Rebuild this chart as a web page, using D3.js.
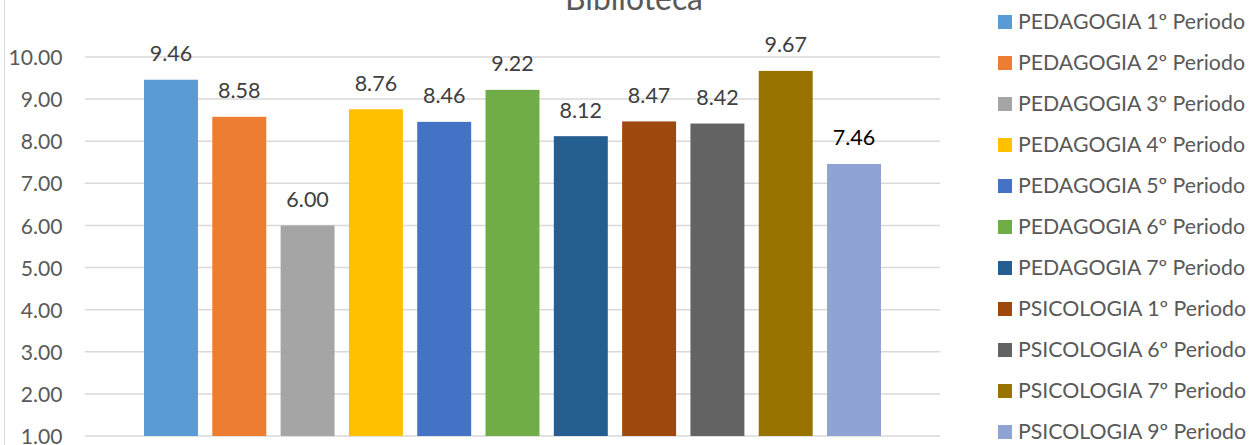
<!DOCTYPE html>
<html><head><meta charset="utf-8">
<script src="https://cdn.jsdelivr.net/npm/d3@7"></script>
<style>body{margin:0;background:#fff}svg{display:block;font-family:Lato,"Open Sans",sans-serif}</style>
</head><body><svg id="c" width="1255" height="445"></svg>
<script>
const title = "Biblioteca";
const series = ["PEDAGOGIA 1º Periodo","PEDAGOGIA 2º Periodo","PEDAGOGIA 3º Periodo","PEDAGOGIA 4º Periodo","PEDAGOGIA 5º Periodo","PEDAGOGIA 6º Periodo","PEDAGOGIA 7º Periodo","PSICOLOGIA 1º Periodo","PSICOLOGIA 6º Periodo","PSICOLOGIA 7º Periodo","PSICOLOGIA 9º Periodo"];
const values = [9.46, 8.58, 6.00, 8.76, 8.46, 9.22, 8.12, 8.47, 8.42, 9.67, 7.46];
const colors = ["#5B9BD5","#ED7D31","#A5A5A5","#FFC000","#4472C4","#70AD47","#255E91","#9E480E","#636363","#997300","#8FA3D4"];
const yTicks = [1,2,3,4,5,6,7,8,9,10];

const svg = d3.select("#c");
const FONT = "Lato,'Open Sans',sans-serif";

// helper: font size so that a string reaches a target width
function fitSize(str, targetW){
  const t = svg.append("text").style("font-family",FONT).style("font-size","20px").text(str);
  const w = t.node().getComputedTextLength();
  t.remove();
  return 20*targetW/w;
}
const legendFs = fitSize(series[0], 227);
const axisFs = fitSize("10.00", 54);
const titleFs = fitSize(title, 138);
const labelFs = fitSize("9.46", 42.5);

const y = d3.scaleLinear().domain([1,10]).range([436,57]);
const x = d3.scaleBand().domain(series).range([144,881]).paddingInner(0.21).paddingOuter(0);

// chart border (left edge)
svg.append("line").attr("x1",4.5).attr("x2",4.5).attr("y1",0).attr("y2",445).attr("stroke","#d9d9d9").attr("stroke-width",1);

// gridlines
svg.append("g").selectAll("line").data(yTicks).join("line")
  .attr("x1",85).attr("x2",940).attr("y1",d=>y(d)).attr("y2",d=>y(d))
  .attr("stroke","#d9d9d9").attr("stroke-width",1.5);

// y axis labels
const yAxis = d3.axisLeft(y).tickValues(yTicks).tickFormat(d3.format(".2f")).tickSize(0).tickPadding(0);
const ga = svg.append("g").attr("transform","translate(62.5,0)").call(yAxis);
ga.select(".domain").remove();
ga.selectAll("text").attr("fill","#595959").attr("dy","0.36em").style("font-size",axisFs+"px").style("font-family",FONT);

// bars
svg.append("g").selectAll("rect").data(values).join("rect")
  .attr("x",(d,i)=>x(series[i])).attr("width",x.bandwidth())
  .attr("y",d=>y(d)).attr("height",d=>y(1)-y(d))
  .attr("fill",(d,i)=>colors[i]);

// data labels
svg.append("g").selectAll("text").data(values).join("text")
  .attr("x",(d,i)=>x(series[i])+x.bandwidth()/2)
  .attr("y",(d,i)=>y(d)-18.5)
  .attr("text-anchor","middle")
  .attr("fill",(d,i)=>i===10?"#000":"#404040")
  .style("font-size",labelFs+"px")
  .text(d=>d3.format(".2f")(d));

// title
svg.append("text").attr("x",634).attr("y",10).attr("text-anchor","middle")
  .attr("fill","#595959").style("font-size",titleFs+"px").text(title);

// legend
const lg = svg.append("g").selectAll("g").data(series).join("g")
  .attr("transform",(d,i)=>`translate(998,${22+i*41})`);
lg.append("rect").attr("x",0).attr("y",-7).attr("width",14).attr("height",14).attr("fill",(d,i)=>colors[i]);
lg.append("text").attr("x",20).attr("y",7).attr("fill","#595959").style("font-size",legendFs+"px").text(d=>d);
</script></body></html>
